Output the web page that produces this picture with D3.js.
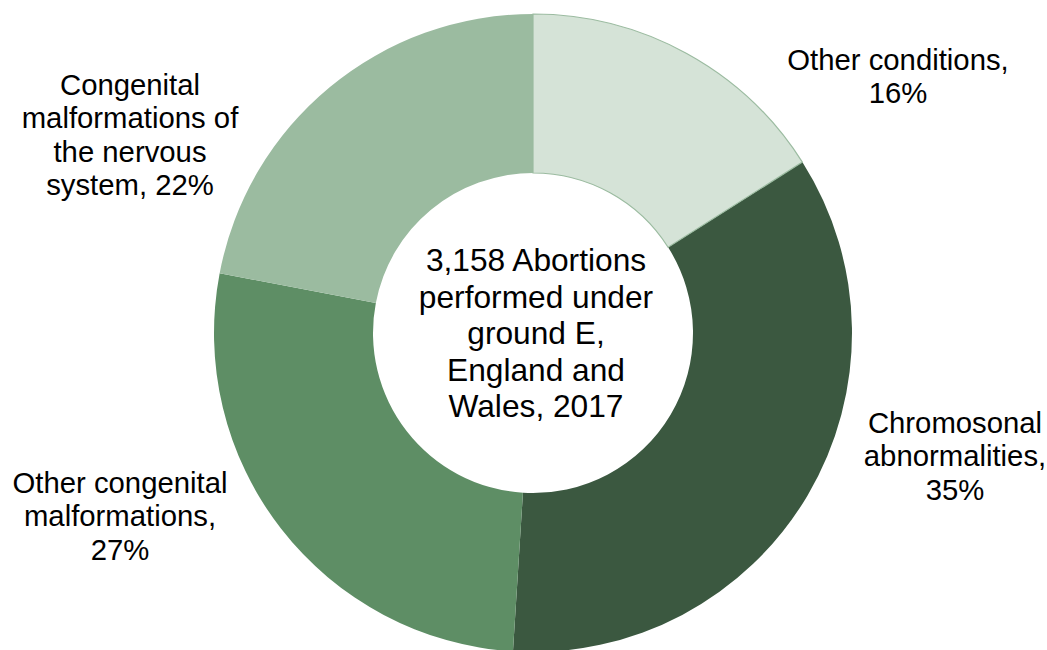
<!DOCTYPE html>
<html>
<head>
<meta charset="utf-8">
<script src="https://cdn.jsdelivr.net/npm/d3@7"></script>
<style>
    body { margin: 0; background: #fff; }
    svg text { font-family: Arial, "Liberation Sans", sans-serif; fill: #000; }
</style>
</head>
<body>
<div class="js-chart"></div>
<script>
'use strict';

//categories and shares (per cent) of ground E abortions, clockwise from 12 o'clock
var categories = ['Other conditions', 'Chromosonal abnormalities', 'Other congenital malformations',
    'Congenital malformations of the nervous system'];
var shares = [16, 35, 27, 22];

//label text as it wraps in the picture
var labelLines = [
    ['Other conditions,', '16%'],
    ['Chromosonal', 'abnormalities,', '35%'],
    ['Other congenital', 'malformations,', '27%'],
    ['Congenital', 'malformations of', 'the nervous', 'system, 22%']
];
var centreLines = ['3,158 Abortions', 'performed under', 'ground E,', 'England and', 'Wales, 2017'];

//layout - label anchor (centre x, first baseline) relative to the donut centre
var labelPos = [[365, -263], [422, 100], [-413, 160], [-403, -238]];
var colors = ['#d5e3d7', '#3b5840', '#5e8e65', '#9bbba0'];

var dim = { w: 1047, h: 650 };
var cx = 533, cy = 333;
var outerR = 319, innerR = 160;

var svg = d3.select('.js-chart')
    .append('svg')
    .attr('width', dim.w)
    .attr('height', dim.h);

var vis = svg.append('g').attr('transform', 'translate(' + cx + ',' + cy + ')');

var pie = d3.pie().sort(null).value(function (d) { return d; });
var arc = d3.arc().innerRadius(innerR).outerRadius(outerR);
var color = d3.scaleOrdinal().domain(categories).range(colors);

var slices = pie(shares);

//draw slices
vis.selectAll('.js-slice')
    .data(slices)
    .enter()
    .append('path')
    .attr('class', 'js-slice')
    .attr('d', arc)
    .style('fill', function (d, i) { return color(categories[i]); })
    .style('stroke', function (d, i) { return i === 0 ? '#9bbba0' : 'none'; })
    .style('stroke-width', 1.2);

//keep the light slice's outline on top of its neighbours
vis.select('.js-slice').raise();

//slice labels
var labelSize = 29.3, labelLead = 33.4;
vis.selectAll('.js-label')
    .data(slices)
    .enter()
    .append('text')
    .attr('class', 'js-label')
    .attr('text-anchor', 'middle')
    .style('font-size', labelSize + 'px')
    .each(function (d, i) {
        var t = d3.select(this);
        labelLines[i].forEach(function (line, j) {
            t.append('tspan')
                .attr('x', labelPos[i][0])
                .attr('y', labelPos[i][1] + j * labelLead)
                .text(line);
        });
    });

//centre text
var centreSize = 31.7, centreLead = 36.5;
var centre = vis.append('text')
    .attr('text-anchor', 'middle')
    .style('font-size', centreSize + 'px');
centreLines.forEach(function (line, j) {
    centre.append('tspan')
        .attr('x', 3)
        .attr('y', -62 + j * centreLead)
        .text(line);
});
</script>
</body>
</html>
